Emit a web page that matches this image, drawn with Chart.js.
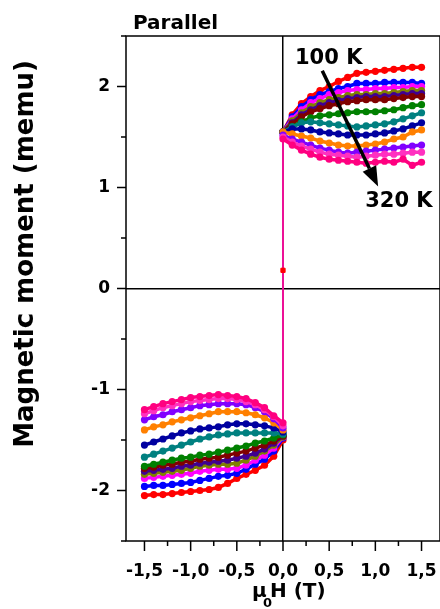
<!DOCTYPE html>
<html>
<head>
<meta charset="utf-8">
<script src="https://cdn.jsdelivr.net/npm/chart.js@4.4.1/dist/chart.umd.min.js"></script>
<style>
  html, body { margin: 0; padding: 0; background: #fff; }
  #wrap { width: 440px; height: 609px; }
</style>
</head>
<body>
<div id="wrap"><canvas id="chart"></canvas></div>
<script>
// field sweep: -1.5 -> 0 (lower branch), then 0 -> 1.5 (upper branch), in T
const field = [-1.5, -1.4, -1.3, -1.2, -1.1, -1.0, -0.9, -0.8, -0.7, -0.6, -0.5, -0.4, -0.3, -0.2, -0.1, 0,
               0, 0.1, 0.2, 0.3, 0.4, 0.5, 0.6, 0.7, 0.8, 0.9, 1.0, 1.1, 1.2, 1.3, 1.4, 1.5];

// magnetic moment (memu), one array per curve, 100 K (red) ... 320 K (pink)
const red      = [-2.05,-2.04,-2.04,-2.03,-2.02,-2.01,-2.00,-1.99,-1.97,-1.93,-1.88,-1.84,-1.80,-1.75,-1.66,-1.50,
                  1.55,1.72,1.83,1.90,1.96,2.00,2.05,2.09,2.13,2.14,2.15,2.16,2.17,2.18,2.19,2.19];
const blue     = [-1.96,-1.95,-1.95,-1.94,-1.93,-1.92,-1.90,-1.88,-1.86,-1.85,-1.83,-1.79,-1.74,-1.69,-1.61,-1.48,
                  1.55,1.70,1.80,1.87,1.92,1.95,1.98,2.00,2.03,2.03,2.03,2.04,2.04,2.04,2.04,2.03];
const magenta  = [-1.88,-1.87,-1.86,-1.85,-1.84,-1.83,-1.81,-1.80,-1.79,-1.79,-1.78,-1.75,-1.70,-1.65,-1.58,-1.47,
                  1.55,1.68,1.77,1.84,1.88,1.92,1.94,1.96,1.97,1.97,1.98,1.98,1.99,1.99,2.00,2.00];
const olive    = [-1.84,-1.83,-1.82,-1.81,-1.80,-1.78,-1.76,-1.75,-1.74,-1.74,-1.73,-1.70,-1.66,-1.61,-1.55,-1.47,
                  1.55,1.66,1.74,1.80,1.84,1.87,1.89,1.91,1.92,1.92,1.93,1.93,1.94,1.95,1.96,1.96];
const purple   = [-1.81,-1.80,-1.79,-1.78,-1.76,-1.75,-1.73,-1.72,-1.71,-1.70,-1.68,-1.66,-1.63,-1.59,-1.53,-1.46,
                  1.55,1.64,1.72,1.77,1.81,1.84,1.86,1.88,1.89,1.90,1.90,1.90,1.91,1.92,1.93,1.93];
const wine     = [-1.78,-1.77,-1.75,-1.74,-1.72,-1.71,-1.69,-1.68,-1.67,-1.65,-1.63,-1.61,-1.58,-1.55,-1.51,-1.46,
                  1.55,1.63,1.70,1.75,1.78,1.81,1.83,1.85,1.86,1.87,1.87,1.87,1.88,1.89,1.90,1.90];
const green    = [-1.76,-1.74,-1.72,-1.70,-1.68,-1.67,-1.65,-1.64,-1.62,-1.60,-1.58,-1.56,-1.53,-1.51,-1.48,-1.45,
                  1.55,1.60,1.65,1.69,1.71,1.72,1.73,1.74,1.75,1.75,1.75,1.76,1.77,1.79,1.81,1.82];
const darkCyan = [-1.67,-1.64,-1.61,-1.58,-1.55,-1.52,-1.49,-1.47,-1.45,-1.44,-1.43,-1.43,-1.43,-1.43,-1.43,-1.44,
                  1.55,1.60,1.64,1.65,1.64,1.63,1.62,1.61,1.60,1.61,1.62,1.63,1.65,1.68,1.71,1.74];
const navy     = [-1.55,-1.52,-1.49,-1.46,-1.43,-1.41,-1.39,-1.38,-1.37,-1.35,-1.34,-1.34,-1.35,-1.36,-1.38,-1.42,
                  1.55,1.58,1.58,1.57,1.55,1.54,1.53,1.52,1.52,1.52,1.53,1.54,1.56,1.58,1.61,1.64];
const orange   = [-1.40,-1.37,-1.35,-1.32,-1.30,-1.28,-1.26,-1.24,-1.22,-1.22,-1.22,-1.23,-1.25,-1.28,-1.33,-1.40,
                  1.55,1.53,1.51,1.49,1.46,1.44,1.42,1.41,1.41,1.42,1.43,1.45,1.48,1.50,1.55,1.57];
const violet   = [-1.30,-1.27,-1.25,-1.22,-1.20,-1.18,-1.16,-1.15,-1.14,-1.14,-1.14,-1.15,-1.18,-1.22,-1.29,-1.38,
                  1.52,1.48,1.45,1.42,1.39,1.37,1.35,1.34,1.35,1.36,1.37,1.38,1.39,1.40,1.41,1.42];
const hotPink  = [-1.24,-1.21,-1.18,-1.16,-1.14,-1.12,-1.11,-1.10,-1.09,-1.09,-1.10,-1.12,-1.15,-1.20,-1.27,-1.36,
                  1.50,1.45,1.41,1.38,1.35,1.33,1.32,1.31,1.30,1.31,1.32,1.33,1.33,1.34,1.35,1.35];
const pink     = [-1.20,-1.17,-1.14,-1.12,-1.10,-1.08,-1.07,-1.06,-1.05,-1.06,-1.07,-1.09,-1.13,-1.18,-1.26,-1.33,
                  1.48,1.42,1.37,1.33,1.30,1.28,1.27,1.26,1.25,1.24,1.25,1.26,1.25,1.28,1.22,1.25];

// single point caught half-way through the switching of the 100 K curve
const redJumpField = [0];
const redJumpMoment = [0.18];

const curves = [red, blue, magenta, olive, purple, wine, green, darkCyan, navy, orange, violet, hotPink, pink];
const colors = ['#ff0000', '#0000ff', '#ff00ff', '#808000', '#400090', '#800000', '#008000',
                '#008080', '#0000a0', '#ff8000', '#8000ff', '#ff30c0', '#ff0080'];

const xTicks = [-1.5, -1.0, -0.5, 0, 0.5, 1.0, 1.5];
const xMinorTicks = [-1.25, -0.75, -0.25, 0.25, 0.75, 1.25];
const yTicks = [-2, -1, 0, 1, 2];
const yMinorTicks = [-2.5, -1.5, -0.5, 0.5, 1.5, 2.5];

const FONT = 'DejaVu Sans';

// the switching step at 0 T is drawn thin
const jumpWidth = s => (s.p0.parsed.x === 0 && s.p1.parsed.x === 0 ? 1.2 : undefined);

const datasets = curves.map((vals, i) => ({
  data: field.map((f, j) => ({ x: f, y: vals[j] })),
  borderColor: colors[i],
  backgroundColor: colors[i],
  borderWidth: 3.5,
  pointRadius: 3.6,
  pointBorderWidth: 0,
  showLine: true,
  segment: { borderWidth: jumpWidth },
  order: curves.length - i + 1
}));
datasets.push({
  data: redJumpField.map((f, j) => ({ x: f, y: redJumpMoment[j] })),
  backgroundColor: '#ff0000',
  borderColor: '#ff0000',
  pointStyle: 'rect',
  pointRadius: 3,
  showLine: false,
  order: 0
});

const decor = {
  id: 'decor',
  beforeDatasetsDraw(chart) {
    const { ctx, chartArea: a, scales: { x, y } } = chart;
    ctx.save();
    ctx.strokeStyle = '#000';
    ctx.lineWidth = 1.5;
    ctx.strokeRect(a.left, a.top, a.right - a.left, a.bottom - a.top);
    ctx.beginPath();
    xTicks.forEach(v => { const p = x.getPixelForValue(v); ctx.moveTo(p, a.bottom); ctx.lineTo(p, a.bottom + 10); });
    xMinorTicks.forEach(v => { const p = x.getPixelForValue(v); ctx.moveTo(p, a.bottom); ctx.lineTo(p, a.bottom + 5); });
    yTicks.forEach(v => { const p = y.getPixelForValue(v); ctx.moveTo(a.left, p); ctx.lineTo(a.left - 9, p); });
    yMinorTicks.forEach(v => { const p = y.getPixelForValue(v); ctx.moveTo(a.left, p); ctx.lineTo(a.left - 5, p); });
    ctx.stroke();
    ctx.restore();
  },
  afterDraw(chart) {
    const { ctx, scales: { x, y } } = chart;
    ctx.save();
    ctx.fillStyle = '#000';
    ctx.strokeStyle = '#000';

    ctx.font = `bold 20px "${FONT}"`;
    ctx.textBaseline = 'alphabetic';
    ctx.fillText('Parallel', 133, 29);

    // x axis title with subscript
    const x0 = x.getPixelForValue(0);
    ctx.font = `bold 20px "${FONT}"`;
    ctx.fillText('\u03bc', x0 - 31, 597);
    ctx.font = `bold 13px "${FONT}"`;
    ctx.fillText('0', x0 - 20, 607);
    ctx.font = `bold 20px "${FONT}"`;
    ctx.fillText('H (T)', x0 - 13, 597);

    // y axis title
    ctx.save();
    ctx.translate(26, 254);
    ctx.rotate(-Math.PI / 2);
    ctx.textAlign = 'center';
    ctx.textBaseline = 'middle';
    ctx.font = `bold 26px "${FONT}"`;
    ctx.fillText('Magnetic moment (memu)', 0, 0);
    ctx.restore();

    // temperature labels and arrow
    ctx.font = `bold 21px "${FONT}"`;
    ctx.fillText('100 K', x.getPixelForValue(0.13), y.getPixelForValue(2.22));
    ctx.fillText('320 K', x.getPixelForValue(0.89), y.getPixelForValue(0.81));

    const sx = x.getPixelForValue(0.425), sy = y.getPixelForValue(2.155);
    const tx = x.getPixelForValue(1.03), ty = y.getPixelForValue(1.01);
    const ang = Math.atan2(ty - sy, tx - sx);
    const hl = 20, hw = 7.5;
    const bx = tx - hl * Math.cos(ang), by = ty - hl * Math.sin(ang);
    ctx.lineWidth = 3.5;
    ctx.beginPath();
    ctx.moveTo(sx, sy);
    ctx.lineTo(bx, by);
    ctx.stroke();
    ctx.beginPath();
    ctx.moveTo(tx, ty);
    ctx.lineTo(bx + hw * Math.sin(ang), by - hw * Math.cos(ang));
    ctx.lineTo(bx - hw * Math.sin(ang), by + hw * Math.cos(ang));
    ctx.closePath();
    ctx.fill();
    ctx.restore();
  }
};

const zeroLine = c => (c.tick && c.tick.value === 0 ? '#000' : 'rgba(0,0,0,0)');

new Chart(document.getElementById('chart'), {
  type: 'scatter',
  data: { datasets },
  options: {
    responsive: true,
    maintainAspectRatio: false,
    animation: false,
    layout: { autoPadding: false, padding: { top: 36, right: 0, bottom: 0, left: 0 } },
    plugins: { legend: { display: false }, tooltip: { enabled: false } },
    scales: {
      x: {
        type: 'linear',
        min: -1.7,
        max: 1.7,
        afterBuildTicks: s => { s.ticks = xTicks.map(v => ({ value: v })); },
        afterFit: s => { s.height = 68; s.paddingLeft = 0; s.paddingRight = 0; },
        border: { display: false },
        grid: { drawTicks: false, color: zeroLine, lineWidth: 1.5 },
        ticks: {
          padding: 20,
          autoSkip: false,
          maxRotation: 0,
          color: '#000',
          font: { family: FONT, weight: 'bold', size: 17 },
          callback: v => v.toFixed(1).replace('.', ',')
        }
      },
      y: {
        type: 'linear',
        min: -2.5,
        max: 2.5,
        afterBuildTicks: s => { s.ticks = yTicks.map(v => ({ value: v })); },
        afterFit: s => { s.width = 126; s.paddingTop = 0; s.paddingBottom = 0; },
        border: { display: false },
        grid: { drawTicks: false, color: zeroLine, lineWidth: 1.5 },
        ticks: {
          padding: 16,
          color: '#000',
          font: { family: FONT, weight: 'bold', size: 17 },
          callback: v => String(v)
        }
      }
    }
  },
  plugins: [decor]
});
</script>
</body>
</html>
